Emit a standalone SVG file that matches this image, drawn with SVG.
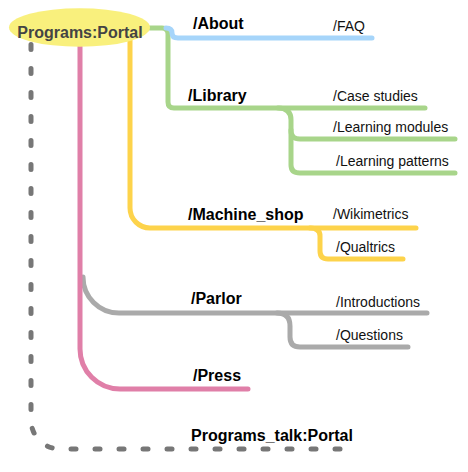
<svg xmlns="http://www.w3.org/2000/svg" width="468" height="472" viewBox="0 0 468 472">
<style>
.l{fill:none;stroke-width:5;stroke-linecap:round;stroke-linejoin:round}
.b{font-family:"Liberation Sans",Arial,sans-serif;font-weight:bold;font-size:16px;fill:#000}
.s{font-family:"Liberation Sans",Arial,sans-serif;font-size:14px;fill:#111}
</style>
<rect width="468" height="472" fill="#fff"/>
<g id="connectors">
<path class="l" d="M31,44.5 V420 A29,29 0 0 0 60,449 H356" stroke="#777" stroke-dasharray="5 19"/>
<path class="l" d="M83,277 A36,36 0 0 0 119,313 H427" stroke="#aaa"/>
<path class="l" d="M277,313 Q290,313 290,326 V337 Q290,347 300,347 H408" stroke="#aaa"/>
<path class="l" d="M80,40 V349 A40,40 0 0 0 120,389 H248" stroke="#e07fa8" stroke-width="6"/>
<path class="l" d="M130,40 V208 A20,20 0 0 0 150,228 H416" stroke="#fdd34b"/>
<path class="l" d="M310,228 Q320,228 320,236 V251 Q320,259 328,259 H403" stroke="#fdd34b"/>
<path class="l" d="M150,28 H162 Q168,28 168,34 V102 Q168,108 174,108 H425" stroke="#a8d58a"/>
<path class="l" d="M278,108 Q291,108 291,120 V131 Q291,139 300,139 H455" stroke="#a8d58a"/>
<path class="l" d="M291,130 V165 Q291,173 300,173 H455" stroke="#a8d58a"/>
<path class="l" d="M166,28 Q172,28 172,33 Q172,38 178,38 H372" stroke="#a6d5fa"/>
</g>
<g id="portal">
<ellipse cx="79.5" cy="27.5" rx="70.5" ry="19.3" fill="#f9f07d"/>
<text class="b" x="80" y="38" text-anchor="middle" style="fill:#444">Programs:Portal</text>
</g>
<g id="about"><text class="b" x="193" y="29">/About</text></g>
<g id="faq"><text class="s" x="333" y="31">/FAQ</text></g>
<g id="library"><text class="b" x="188" y="101">/Library</text></g>
<g id="case-studies"><text class="s" x="333" y="101">/Case studies</text></g>
<g id="learning-modules"><text class="s" x="333" y="132">/Learning modules</text></g>
<g id="learning-patterns"><text class="s" x="336" y="166">/Learning patterns</text></g>
<g id="machine-shop"><text class="b" x="188" y="220">/Machine_shop</text></g>
<g id="wikimetrics"><text class="s" x="333" y="219">/Wikimetrics</text></g>
<g id="qualtrics"><text class="s" x="336" y="252">/Qualtrics</text></g>
<g id="parlor"><text class="b" x="191" y="304">/Parlor</text></g>
<g id="introductions"><text class="s" x="336" y="307">/Introductions</text></g>
<g id="questions"><text class="s" x="336" y="340">/Questions</text></g>
<g id="press"><text class="b" x="193" y="381">/Press</text></g>
<g id="programs-talk"><text class="b" x="191" y="441">Programs_talk:Portal</text></g>
</svg>
